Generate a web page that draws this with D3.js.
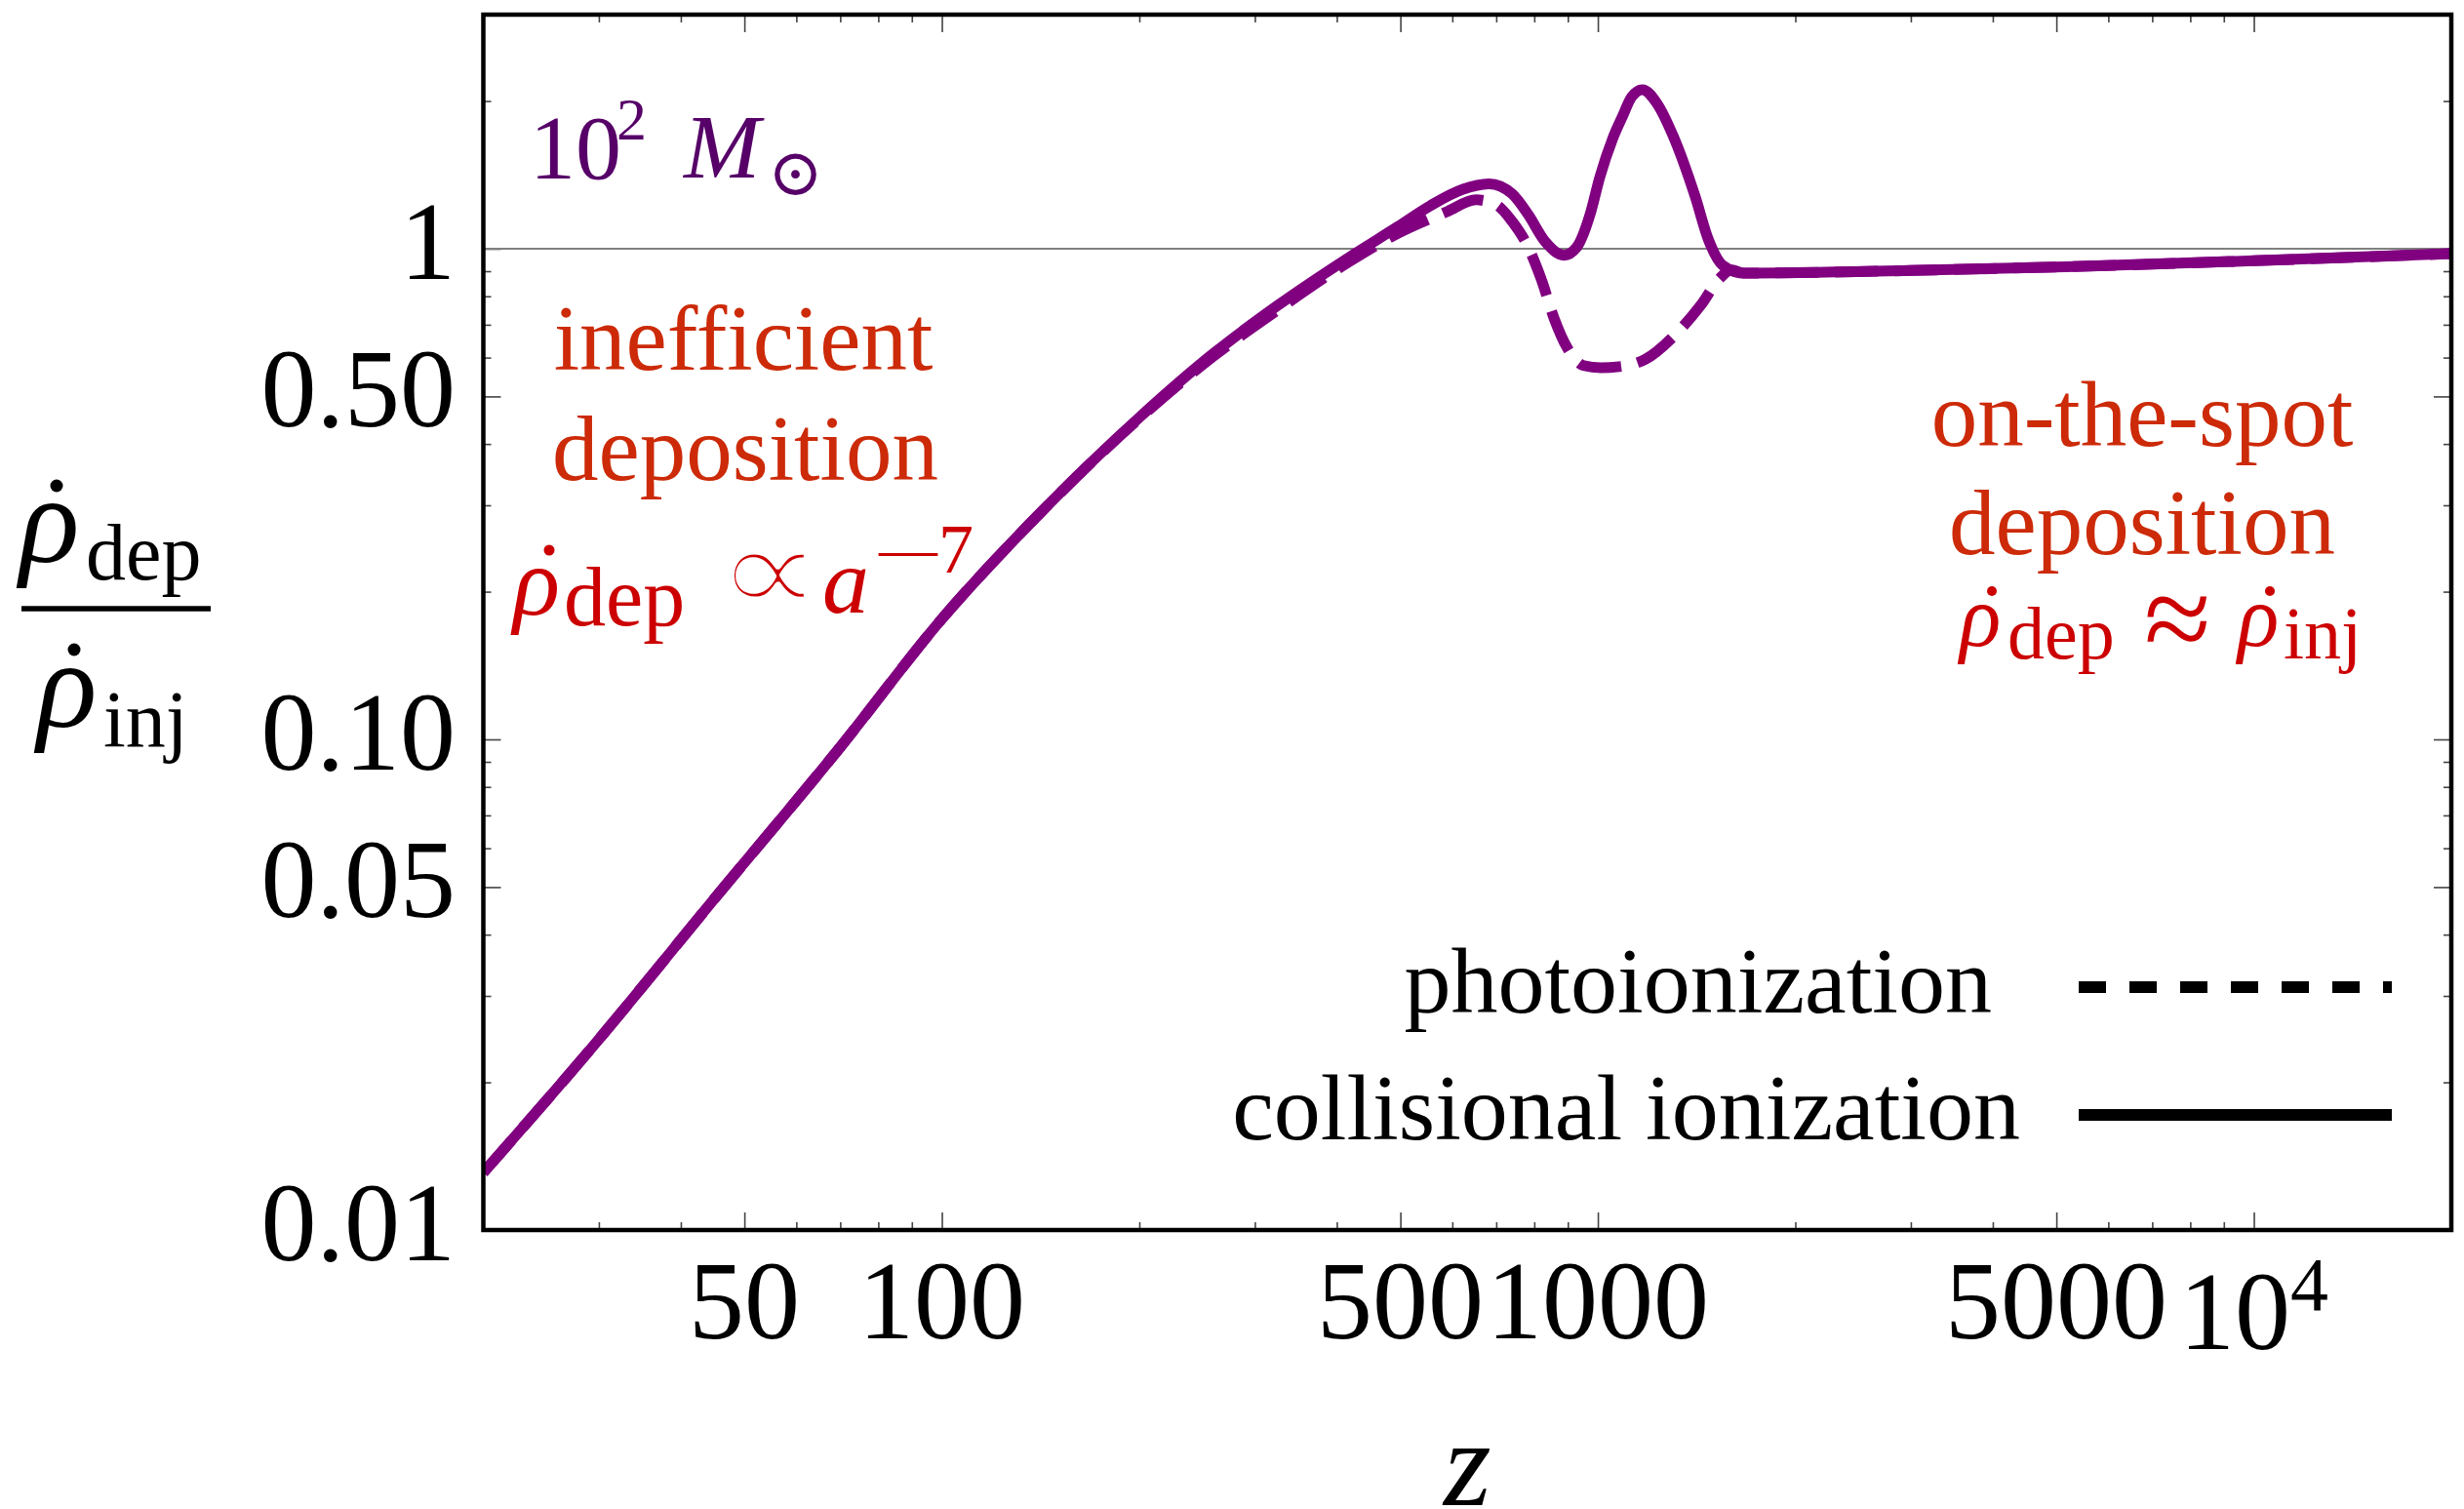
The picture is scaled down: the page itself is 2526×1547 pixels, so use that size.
<!DOCTYPE html>
<html><head><meta charset="utf-8">
<script src="https://cdn.jsdelivr.net/npm/d3@7"></script>
<style>
body{margin:0;background:#fff}
svg{display:block}
text{font-family:"Liberation Serif","Times New Roman",serif}
</style>
</head><body>
<svg id="c" width="2526" height="1547"></svg>
<script>
// ---- data ----
const zCollisional = [20, 29.4, 45.4, 70.3, 100, 135, 200, 260, 324, 420, 496, 556, 623, 683, 740, 783, 829, 888, 929, 973, 1007, 1054, 1090, 1126, 1169, 1230, 1305, 1405, 1476, 1549, 1668, 3000, 5170, 10000, 20000];
const vCollisional = [0.0131, 0.0237, 0.048, 0.0971, 0.176, 0.272, 0.453, 0.613, 0.764, 0.965, 1.11, 1.225, 1.322, 1.356, 1.294, 1.174, 1.039, 0.970, 1.008, 1.174, 1.40, 1.68, 1.86, 2.04, 2.11, 1.98, 1.688, 1.286, 1.039, 0.926, 0.892, 0.903, 0.919, 0.945, 0.977];
const zPhoto = [20, 29.4, 45.4, 70.3, 100, 135, 200, 260, 324, 420, 496, 589, 652, 700, 740, 783, 820, 858, 898, 951, 1010, 1078, 1181, 1309, 1434, 1535, 1600, 1668, 3000, 5170, 10000, 20000];
const vPhoto = [0.0131, 0.0237, 0.048, 0.0971, 0.176, 0.272, 0.451, 0.605, 0.748, 0.945, 1.075, 1.19, 1.258, 1.229, 1.137, 1.008, 0.866, 0.72, 0.628, 0.578, 0.572, 0.575, 0.595, 0.666, 0.766, 0.871, 0.905, 0.892, 0.903, 0.919, 0.945, 0.977];
const yTickValues = [0.01, 0.05, 0.1, 0.5, 1];
const yTickLabels = ["0.01", "0.05", "0.10", "0.50", "1"];
const xTickValues = [50, 100, 500, 1000, 5000, 10000];
const xTickLabels = ["50", "100", "500", "1000", "5000", "10|4"];
const xMinorTicks = [30, 40, 60, 70, 80, 90, 200, 300, 400, 600, 700, 800, 900, 2000, 3000, 4000, 6000, 7000, 8000, 9000];
const yMinorTicks = [0.02, 0.03, 0.04, 0.06, 0.07, 0.08, 0.09, 0.2, 0.3, 0.4, 0.6, 0.7, 0.8, 0.9, 2];
const seriesNames = ["photoionization", "collisional ionization"];

// ---- layout ----
const X0 = 495.5, X1 = 2513, Y0 = 15, Y1 = 1261;
const svg = d3.select("#c");
const x = d3.scaleLog().domain([20, 20000]).range([X0, X1]);
const y = d3.scaleLog().domain([0.01, 3]).range([Y1, Y0]);
const purple = "#800080";

svg.append("defs").append("clipPath").attr("id", "clip")
  .append("rect").attr("x", X0).attr("y", Y0).attr("width", X1 - X0).attr("height", Y1 - Y0);

// ticks on all four sides, pointing inward
function ticks(axis, tr, vals, size) {
  svg.append("g").attr("transform", tr)
    .call(axis.tickValues(vals).tickSize(size).tickFormat(""))
    .call(g => { g.select(".domain").remove(); g.selectAll("line").attr("stroke", "#444").attr("stroke-width", 1.6); });
}
ticks(d3.axisBottom(x), `translate(0,${Y1})`, xTickValues, -18);
ticks(d3.axisBottom(x), `translate(0,${Y1})`, xMinorTicks, -8);
ticks(d3.axisTop(x), `translate(0,${Y0})`, xTickValues, -18);
ticks(d3.axisTop(x), `translate(0,${Y0})`, xMinorTicks, -8);
ticks(d3.axisLeft(y), `translate(${X0},0)`, yTickValues, -18);
ticks(d3.axisLeft(y), `translate(${X0},0)`, yMinorTicks, -8);
ticks(d3.axisRight(y), `translate(${X1},0)`, yTickValues, -18);
ticks(d3.axisRight(y), `translate(${X1},0)`, yMinorTicks, -8);

// reference line at 1
svg.append("line").attr("x1", X0).attr("x2", X1).attr("y1", y(1)).attr("y2", y(1))
  .attr("stroke", "#808080").attr("stroke-width", 2);

// curves
const line = d3.line().x(d => x(d[0])).y(d => y(d[1])).curve(d3.curveMonotoneX);
const gC = svg.append("g").attr("clip-path", "url(#clip)");
gC.append("path").datum(d3.zip(zCollisional, vCollisional)).attr("d", line)
  .attr("fill", "none").attr("stroke", purple).attr("stroke-width", 11).attr("stroke-linejoin", "round");
gC.append("path").datum(d3.zip(zPhoto, vPhoto)).attr("d", line)
  .attr("fill", "none").attr("stroke", purple).attr("stroke-width", 11).attr("stroke-dasharray", "44,17");

// frame
svg.append("rect").attr("x", X0).attr("y", Y0).attr("width", X1 - X0).attr("height", Y1 - Y0)
  .attr("fill", "none").attr("stroke", "#000").attr("stroke-width", 4.5);

// tick labels
svg.append("g").selectAll("text").data(yTickValues).join("text")
  .attr("x", 467).attr("y", d => y(d) + 31).attr("text-anchor", "end")
  .attr("font-size", 114).text((d, i) => yTickLabels[i]);
const xl = svg.append("g").selectAll("text").data(xTickValues).join("text")
  .attr("x", d => x(d)).attr("y", (d, i) => xTickLabels[i].includes("|") ? 1383 : 1372)
  .attr("text-anchor", "middle").attr("font-size", 114);
xl.each(function (d, i) {
  const parts = xTickLabels[i].split("|");
  const t = d3.select(this);
  t.append("tspan").text(parts[0]);
  if (parts[1]) t.append("tspan").attr("dy", -40).attr("font-size", 78).text(parts[1]);
});

// axis titles
svg.append("text").attr("x", (X0 + X1) / 2).attr("y", 1543).attr("text-anchor", "middle")
  .attr("font-size", 125).attr("font-style", "italic").text("z");
const yt = svg.append("g");
yt.append("text").attr("x", 20).attr("y", 576).attr("font-size", 128).attr("font-style", "italic").text("ρ");
yt.append("circle").attr("cx", 58).attr("cy", 498).attr("r", 6.5);
yt.append("text").attr("x", 88).attr("y", 594).attr("font-size", 82).text("dep");
yt.append("line").attr("x1", 22).attr("x2", 216).attr("y1", 624).attr("y2", 624).attr("stroke", "#000").attr("stroke-width", 5.5);
yt.append("text").attr("x", 38).attr("y", 745).attr("font-size", 128).attr("font-style", "italic").text("ρ");
yt.append("circle").attr("cx", 76).attr("cy", 666).attr("r", 6.5);
yt.append("text").attr("x", 106).attr("y", 765).attr("font-size", 82).text("inj");

// mass label
const ml = svg.append("text").attr("fill", "#560068").attr("x", 543).attr("y", 183).attr("font-size", 94);
ml.append("tspan").text("10");
ml.append("tspan").attr("x", 632).attr("y", 143).attr("font-size", 62).text("2");
ml.append("tspan").attr("x", 701).attr("y", 182).attr("font-style", "italic").text("M");
ml.append("tspan").attr("x", 787).attr("y", 200).attr("font-size", 68).attr("font-family", "DejaVu Serif").text("⊙");

// annotations
const orange = "#cc2a08", red = "#cc0000";
const an = svg.append("g").attr("fill", orange).attr("font-size", 95).attr("text-anchor", "middle");
an.append("text").attr("x", 762).attr("y", 379).text("inefficient");
an.append("text").attr("x", 764).attr("y", 492).text("deposition");
an.append("text").attr("x", 2196).attr("y", 457).text("on-the-spot");
an.append("text").attr("x", 2196).attr("y", 568).text("deposition");

// left formula: rho_dep ∝ a^-7
const f1 = svg.append("text").attr("fill", red).attr("x", 526).attr("y", 630).attr("font-size", 100);
f1.append("tspan").attr("font-style", "italic").text("ρ");
f1.append("tspan").attr("x", 578).attr("y", 641).attr("font-size", 86).text("dep");
f1.append("tspan").attr("x", 843).attr("y", 628).attr("font-size", 96).attr("font-style", "italic").text("a");
f1.append("tspan").attr("x", 901).attr("y", 582).attr("font-size", 60).text("—");
f1.append("tspan").attr("x", 962).attr("y", 587).attr("font-size", 72).text("7");
svg.append("circle").attr("fill", red).attr("cx", 563).attr("cy", 564).attr("r", 5.5);
// thin the heavy fallback glyph with a white outline painted over it
svg.append("text").attr("fill", red).attr("x", 733).attr("y", 629).attr("font-size", 100)
  .attr("font-family", "'DejaVu Sans'")
  .attr("stroke", "#fff").attr("stroke-width", 4.2).attr("stroke-linejoin", "round")
  .attr("transform", "translate(733,629) scale(1.55,1.3) translate(-733,-629)").text("∝");

// right formula: rho_dep ≈ rho_inj
const f2 = svg.append("text").attr("fill", red).attr("x", 2009).attr("y", 662).attr("font-size", 88);
f2.append("tspan").attr("font-style", "italic").text("ρ");
f2.append("tspan").attr("x", 2058).attr("y", 675).attr("font-size", 76).text("dep");
f2.append("tspan").attr("x", 2198).attr("y", 676).attr("font-size", 125).text("≈");
f2.append("tspan").attr("x", 2294).attr("y", 662).attr("font-style", "italic").text("ρ");
f2.append("tspan").attr("x", 2341).attr("y", 675).attr("font-size", 76).text("inj");
svg.append("circle").attr("fill", red).attr("cx", 2042).attr("cy", 606).attr("r", 5);
svg.append("circle").attr("fill", red).attr("cx", 2327).attr("cy", 606).attr("r", 5);

// legend
const lg = svg.append("g");
lg.append("text").attr("x", 2042).attr("y", 1038).attr("text-anchor", "end").attr("font-size", 96).text(seriesNames[0]);
lg.append("text").attr("x", 2071).attr("y", 1168).attr("text-anchor", "end").attr("font-size", 96).text(seriesNames[1]);
lg.append("line").attr("x1", 2131).attr("x2", 2452).attr("y1", 1012).attr("y2", 1012)
  .attr("stroke", "#000").attr("stroke-width", 12).attr("stroke-dasharray", "28,24");
lg.append("line").attr("x1", 2131).attr("x2", 2452).attr("y1", 1143).attr("y2", 1143)
  .attr("stroke", "#000").attr("stroke-width", 12);
</script>
</body></html>
